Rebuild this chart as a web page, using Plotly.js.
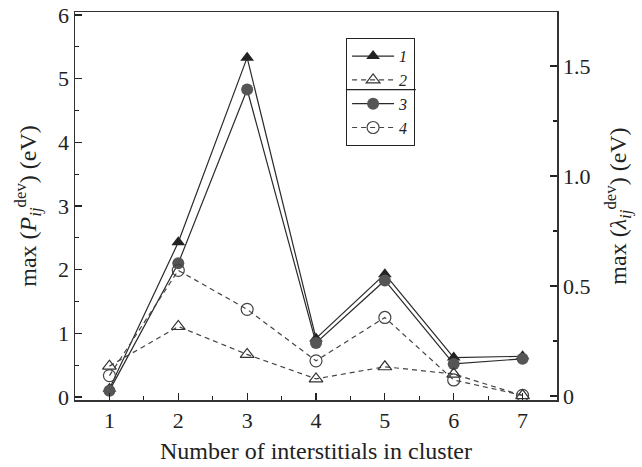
<!DOCTYPE html>
<html>
<head>
<meta charset="utf-8">
<script src="https://cdn.plot.ly/plotly-3.0.1.min.js"></script>
<style>html,body{margin:0;padding:0;background:#fff;}#chart{width:642px;height:467px;}</style>
</head>
<body>
<div id="chart"></div>
<script>
var clusterSize = [1, 2, 3, 4, 5, 6, 7];
var series1 = [0.13, 2.43, 5.33, 0.92, 1.93, 0.62, 0.64];   // left axis, P
var series3 = [0.10, 2.10, 4.83, 0.85, 1.83, 0.52, 0.60];   // left axis, P
var series2 = [0.136, 0.316, 0.189, 0.078, 0.133, 0.100, 0.002]; // right axis, lambda
var series4 = [0.093, 0.571, 0.394, 0.160, 0.357, 0.073, 0.003]; // right axis, lambda
var names = ['1', '2', '3', '4'];

var font = '"Liberation Serif", serif';
var traces = [
  {x: clusterSize, y: series1, name: '<i>' + names[0] + '</i>', mode: 'lines+markers', yaxis: 'y',
   line: {color: '#2a2a2a', width: 1.2}, marker: {symbol: 'triangle-up', size: 12, color: '#222'}},
  {x: clusterSize, y: series2, name: '<i>' + names[1] + '</i>', mode: 'lines+markers', yaxis: 'y2',
   line: {color: '#444', width: 1.2, dash: '5px,4px'}, marker: {symbol: 'triangle-up-open', size: 12, color: '#333', line: {width: 1.2}}},
  {x: clusterSize, y: series3, name: '<i>' + names[2] + '</i>', mode: 'lines+markers', yaxis: 'y',
   line: {color: '#2a2a2a', width: 1.2}, marker: {symbol: 'circle', size: 12, color: '#555'}},
  {x: clusterSize, y: series4, name: '<i>' + names[3] + '</i>', mode: 'lines+markers', yaxis: 'y2',
   line: {color: '#444', width: 1.2, dash: '5px,4px'}, marker: {symbol: 'circle-open', size: 12, color: '#444', line: {width: 1.2}}}
];

var layout = {
  width: 642, height: 467,
  margin: {l: 75, r: 85, t: 12, b: 67},
  paper_bgcolor: '#fff', plot_bgcolor: '#fff',
  font: {family: font, size: 20, color: '#222'},
  showlegend: true,
  legend: {x: 0.562, y: 0.933, xanchor: 'left', yanchor: 'top', bgcolor: 'rgba(255,255,255,0)',
           bordercolor: '#222', borderwidth: 1.2, font: {family: font, size: 16, color: '#222'},
           tracegroupgap: 0, itemwidth: 42},
  xaxis: {range: [0.5, 7.5], tickvals: clusterSize, ticks: 'inside', ticklen: 7, tickwidth: 1.2,
          tickcolor: '#222', showline: true, linecolor: '#333', linewidth: 1.5, mirror: true,
          showgrid: false, zeroline: false,
          minor: {dtick: 0.5, ticks: 'inside', ticklen: 4, tickcolor: '#222'},
          tickfont: {family: font, size: 22},
          title: {text: 'Number of interstitials in cluster', font: {family: font, size: 24}, standoff: 10}},
  yaxis: {range: [-0.047, 6.047], dtick: 1, ticks: 'inside', ticklen: 7, tickwidth: 1.2, tickcolor: '#222',
          showline: true, linecolor: '#333', linewidth: 1.5, showgrid: false, zeroline: false,
          minor: {dtick: 0.5, ticks: 'inside', ticklen: 4, tickcolor: '#222'},
          tickfont: {family: font, size: 22},
          title: {text: 'max (<i>P</i><sub><i>ij</i></sub><sup>dev</sup>) (eV)', font: {family: font, size: 24}, standoff: 14}},
  yaxis2: {overlaying: 'y', side: 'right', range: [-0.018, 1.745], tickvals: [0, 0.5, 1.0, 1.5],
           ticktext: ['0', '0.5', '1.0', '1.5'], ticks: 'inside', ticklen: 7, tickwidth: 1.2, tickcolor: '#222',
           showline: true, linecolor: '#333', linewidth: 1.5, showgrid: false, zeroline: false,
           minor: {dtick: 0.25, ticks: 'inside', ticklen: 4, tickcolor: '#222'},
           tickfont: {family: font, size: 22},
           title: {text: 'max (<i>λ</i><sub><i>ij</i></sub><sup>dev</sup>) (eV)', font: {family: font, size: 24}, standoff: 20}},
  shapes: [
    {type: 'line', xref: 'paper', yref: 'paper', x0: 0.562, x1: 0.707, y0: 0.800, y1: 0.800,
     line: {color: '#222', width: 1.2}}
  ]
};

Plotly.newPlot('chart', traces, layout, {displayModeBar: false, staticPlot: true});
</script>
</body>
</html>
